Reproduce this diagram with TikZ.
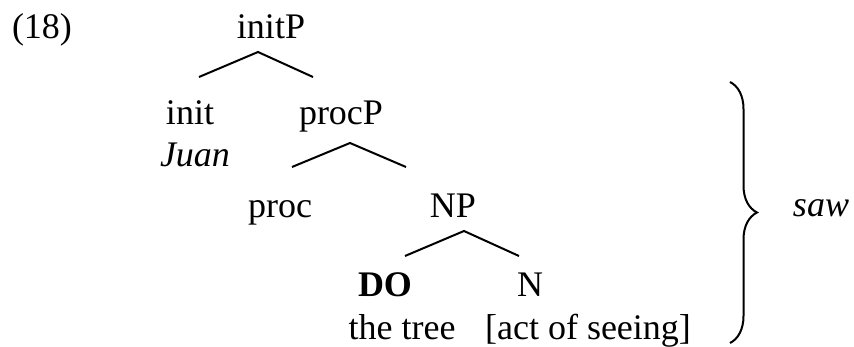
\documentclass[tikz,border=0pt]{standalone}
\usepackage{fontspec}
\setmainfont{Liberation Serif}
\usetikzlibrary{decorations.pathreplacing}
\begin{document}
\begin{tikzpicture}[x=1pt,y=-1pt,
  lbl/.style={anchor=base,inner sep=0pt,font=\fontsize{36}{40}\selectfont},
  branch/.style={line width=2pt}]
\useasboundingbox (0,0) rectangle (854,347);

% labels (x = centre, y = baseline)
\node[lbl] (ex)    at (42,39)  {(18)};
\node[lbl] (initP) at (271,39) {initP};
\node[lbl] (init)  at (190,125) {init};
\node[lbl] (procP) at (341,125) {procP};
\node[lbl] (juan)  at (195,167) {\itshape Juan};
\node[lbl] (proc)  at (280,218) {proc};
\node[lbl] (NP)    at (453,218) {NP};
\node[lbl] (DO)    at (385,297) {\bfseries DO};
\node[lbl] (N)     at (530,297) {N};
\node[lbl] (tree)  at (402,339) {the tree};
\node[lbl] (act)   at (588,339) {[act of seeing]};
\node[lbl] (saw)   at (821,217) {\itshape saw};

% branch points
\coordinate (initP-top) at (258,52);
\coordinate (initP-l)   at (199,77);
\coordinate (initP-r)   at (313,77);
\coordinate (procP-top) at (350,143);
\coordinate (procP-l)   at (292,167);
\coordinate (procP-r)   at (406,167);
\coordinate (NP-top)    at (464,231);
\coordinate (NP-l)      at (405,256);
\coordinate (NP-r)      at (519,256);

\draw[branch] (initP-l) -- (initP-top) -- (initP-r);
\draw[branch] (procP-l) -- (procP-top) -- (procP-r);
\draw[branch] (NP-l) -- (NP-top) -- (NP-r);

% brace spanning the verb's structure
\coordinate (br-top) at (730,82);
\coordinate (br-bot) at (730,343);
\draw[line width=2pt,decorate,decoration={brace,amplitude=27pt}]
  (br-top) -- (br-bot);
\end{tikzpicture}
\end{document}
